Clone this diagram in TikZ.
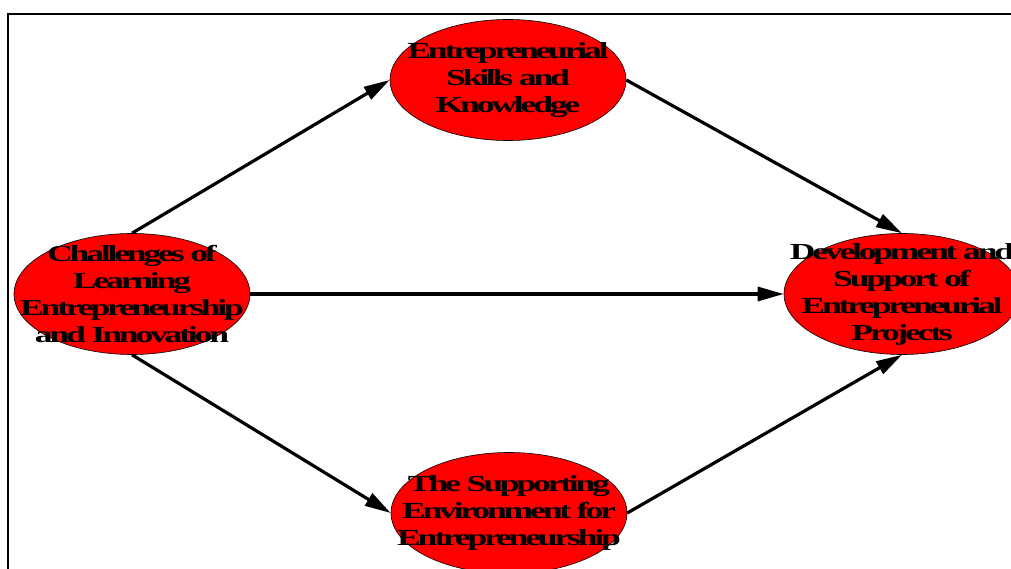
\documentclass[tikz,border=0pt]{standalone}
\usepackage{fontspec}
\newfontfamily\topicfont[FakeStretch=1.55,LetterSpace=-14]{Liberation Serif}
\usetikzlibrary{arrows.meta,shapes.geometric}
\tikzset{
  topictext/.style={align=center, inner sep=0pt, font=\topicfont\bfseries\fontsize{23}{27}\selectfont},
  topic/.style={ellipse, draw=black, line width=0.6pt, fill=red, minimum width=236pt, minimum height=121pt, inner sep=0pt, label={[topictext]center:#1}},
  link/.style={-{Triangle[length=26pt,width=14pt]}, line width=3.2pt}
}
\begin{document}
\begin{tikzpicture}[x=1pt, y=-1pt]
    \useasboundingbox (0,0) rectangle (1011,569);
    \clip (0,0) rectangle (1011,569);
    \draw[line width=1.5pt] (8,14) rectangle (1040,600);

    \node[topic={Entrepreneurial\\Skills and\\Knowledge}] (skills) at (508,80) {};
    \node[topic={Challenges of\\Learning\\Entrepreneurship\\and Innovation}] (challenges) at (132,294) {};
    \node[topic={Development and\\Support of\\Entrepreneurial\\Projects}] (projects) at (902,294) {};
    \node[topic={The Supporting\\Environment for\\Entrepreneurship}] (environment) at (509,513) {};

    \draw[link] (challenges.north) -- (skills.west);
    \draw[link] (skills.east) -- (projects.north);
    \draw[link] (challenges.east) -- (projects.west);
    \draw[link] (challenges.south) -- (environment.west);
    \draw[link] (environment.east) -- (projects.south);
  \end{tikzpicture}
\end{document}
